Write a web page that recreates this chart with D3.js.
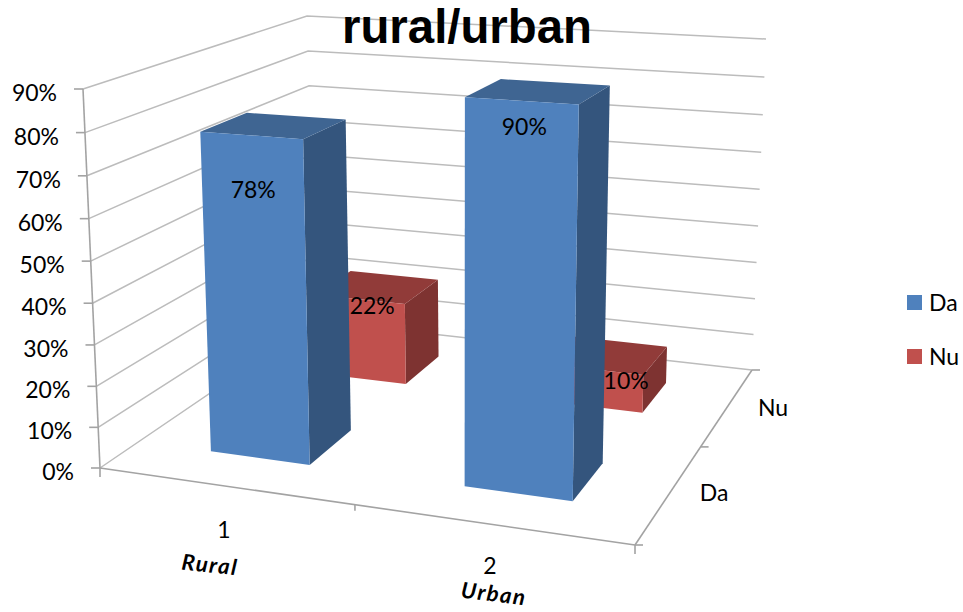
<!DOCTYPE html>
<html>
<head>
<meta charset="utf-8">
<script src="https://cdn.jsdelivr.net/npm/d3@7/dist/d3.min.js"></script>
<style>
html,body{margin:0;padding:0;background:#fff;}
text{font-family:Lato,"Open Sans",sans-serif;fill:#000;}
</style>
</head>
<body>
<svg id="chart" width="963" height="612"></svg>
<script>
const titleText = "rural/urban";
const categories = ["1", "2"];
const categoryNotes = ["Rural", "Urban"];
const seriesNames = ["Da", "Nu"];
const daValues = [78, 90];
const nuValues = [22, 10];
const valueTicks = [0, 10, 20, 30, 40, 50, 60, 70, 80, 90];

// Plot box corners on screen: front-left, front-right, back-right, back-left
const floorCorners = [[100,468],[635,545],[752,370],[316,321]];
const ceilCorners  = [[83,89],[645,126],[766,39],[307,16]];

function homography(q){
  const [[x0,y0],[x1,y1],[x2,y2],[x3,y3]] = q;
  const dx1=x1-x2, dx2=x3-x2, sx=x0-x1+x2-x3;
  const dy1=y1-y2, dy2=y3-y2, sy=y0-y1+y2-y3;
  const den=dx1*dy2-dx2*dy1;
  const g=(sx*dy2-dx2*sy)/den, h=(dx1*sy-sx*dy1)/den;
  const a=x1-x0+g*x1, b=x3-x0+h*x3, d=y1-y0+g*y1, e=y3-y0+h*y3;
  return (u,v)=>{const w=g*u+h*v+1;return [(a*u+b*v+x0)/w,(d*u+e*v+y0)/w];};
}
const floorH = homography(floorCorners), ceilH = homography(ceilCorners);
const zScale = d3.scaleLinear().domain([0,90]).range([0,1]);
const uScale = d3.scaleBand().domain(categories).range([0,1]).paddingInner(0.6).paddingOuter(0.3);
const vScale = d3.scaleBand().domain(seriesNames).range([0,1]).paddingInner(0.6).paddingOuter(0.3);
function P(u,v,val){
  const a=floorH(u,v), b=ceilH(u,v), z=zScale(val), t=z/(1.04-0.04*z);
  return [a[0]+(b[0]-a[0])*t, a[1]+(b[1]-a[1])*t];
}
const svg = d3.select("#chart");
const path = d3.line();
const gridColor="#bcbcbc", axisColor="#a3a3a3";

// wall gridlines
const grid = svg.append("g").attr("fill","none").attr("stroke",gridColor).attr("stroke-width",1.5);
grid.selectAll("path").data(valueTicks).join("path")
  .attr("d",t=>path([P(0,0,t),P(0,1,t),P(1,1,t)]));

// axes
const ax = svg.append("g").attr("fill","none").attr("stroke",axisColor).attr("stroke-width",1.6);
ax.append("path").attr("d",path([P(0,0,0),P(0,0,90)]));
ax.append("path").attr("d",path([P(0,0,0),P(1,0,0)]));
ax.append("path").attr("d",path([P(1,0,0),P(1,1,0)]));
ax.selectAll(".vt").data(valueTicks).join("path").attr("class","vt")
  .attr("d",t=>{const p=P(0,0,t);return path([[p[0]-9,p[1]],p]);});
[0,0.5,1].forEach(u=>{const p=P(u,0,0);
  ax.append("path").attr("d",path([p,[p[0],p[1]+(u===0.5?6:9)]]));});
[0,0.5,1].forEach(v=>{const p=P(1,v,0);
  ax.append("path").attr("d",path([p,[p[0]+8,p[1]]]));});

// bars, back row first
const palette = {
  Da:{front:"#4f81bd",side:"#34557d",top:"#3f6592"},
  Nu:{front:"#c0504d",side:"#7e3331",top:"#913b39"}
};
const seriesValues = {Da:daValues, Nu:nuValues};
const barsG = svg.append("g");
["Nu","Da"].forEach(s=>{
  categories.forEach((c,i)=>{
    const u0=uScale(c), u1=u0+uScale.bandwidth(), v0=vScale(s), v1=v0+vScale.bandwidth(), val=seriesValues[s][i];
    const col=palette[s];
    barsG.append("path").attr("fill",col.side).attr("d",path([P(u1,v0,0),P(u1,v1,0),P(u1,v1,val),P(u1,v0,val)])+"Z");
    barsG.append("path").attr("fill",col.top).attr("d",path([P(u0,v0,val),P(u1,v0,val),P(u1,v1,val),P(u0,v1,val)])+"Z");
    barsG.append("path").attr("fill",col.front).attr("d",path([P(u0,v0,0),P(u1,v0,0),P(u1,v0,val),P(u0,v0,val)])+"Z");
  });
});

// data labels
const labelOffsets = {Da:[[2,54],[3,25]], Nu:[[13,6],[32,11]]};
const fmt = d=>d+"%";
const labelG = svg.append("g").attr("font-size",23).attr("text-anchor","middle").attr("dominant-baseline","central");
seriesNames.forEach(s=>{
  categories.forEach((c,i)=>{
    const val=seriesValues[s][i], uc=uScale(c)+uScale.bandwidth()/2, p=P(uc,vScale(s),val), o=labelOffsets[s][i];
    labelG.append("text").attr("x",p[0]+o[0]).attr("y",p[1]+o[1]).text(fmt(val));
  });
});

// value tick labels
svg.append("g").attr("font-size",23).attr("text-anchor","end").attr("dominant-baseline","central")
  .selectAll("text").data(valueTicks).join("text")
  .attr("x",t=>P(0,0,t)[0]-26).attr("y",t=>P(0,0,t)[1]+3).text(fmt);

// category labels
const catPos = [[224,529],[490,565]], notePos=[[210,564,6],[494,593,7]];
svg.append("g").attr("font-size",23).attr("text-anchor","middle").attr("dominant-baseline","central")
  .selectAll("text").data(categories).join("text")
  .attr("x",(d,i)=>catPos[i][0]).attr("y",(d,i)=>catPos[i][1]).text(d=>d);
svg.append("g").attr("font-size",22).attr("font-weight",700).attr("font-style","italic").attr("letter-spacing",1.6)
  .attr("text-anchor","middle").attr("dominant-baseline","central")
  .selectAll("text").data(categoryNotes).join("text")
  .attr("transform",(d,i)=>`translate(${notePos[i][0]},${notePos[i][1]}) rotate(${notePos[i][2]})`).text(d=>d);

// depth labels
const depthPos=[[714,492],[773,407]];
svg.append("g").attr("font-size",23).attr("text-anchor","middle").attr("dominant-baseline","central")
  .selectAll("text").data(seriesNames).join("text")
  .attr("x",(d,i)=>depthPos[i][0]).attr("y",(d,i)=>depthPos[i][1]).text(d=>d);

// title
svg.append("text").attr("x",342).attr("y",43).text(titleText)
  .attr("textLength",250).attr("lengthAdjust","spacingAndGlyphs")
  .style("font-family","'Liberation Sans',Arial,sans-serif").style("font-weight",700).style("font-size","48px");

// legend
const legend = svg.append("g").selectAll("g").data(seriesNames).join("g")
  .attr("transform",(d,i)=>`translate(907,${295+i*54})`);
legend.append("rect").attr("width",15).attr("height",15).attr("fill",d=>palette[d].front);
legend.append("text").attr("x",22).attr("y",7).attr("font-size",23).attr("dominant-baseline","central").text(d=>d);
</script>
</body>
</html>
